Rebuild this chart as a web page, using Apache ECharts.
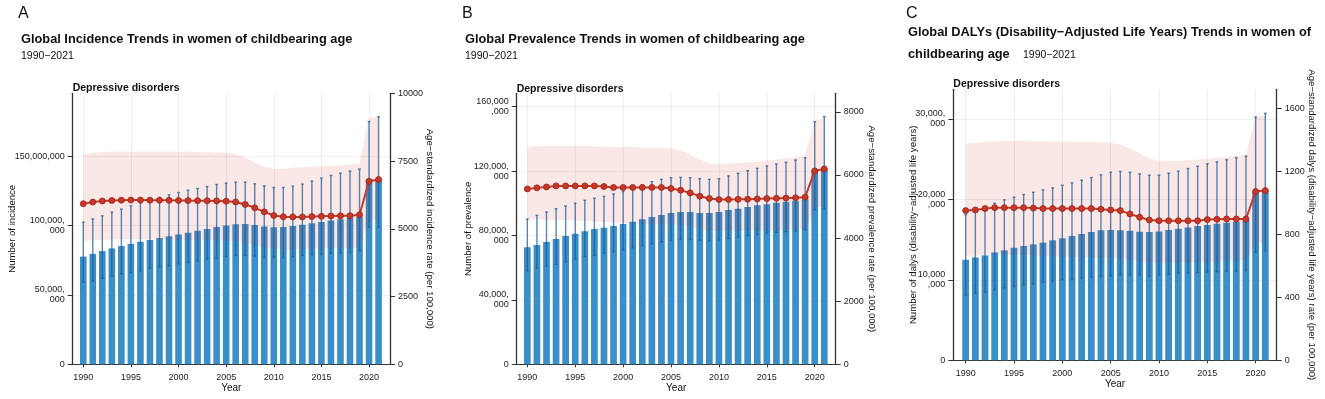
<!DOCTYPE html>
<html>
<head>
<meta charset="utf-8">
<script src="https://cdn.jsdelivr.net/npm/echarts@6/dist/echarts.min.js"></script>
<style>
  html, body { margin: 0; padding: 0; background: #fff; }
  #chart { width: 1325px; height: 399px; }
</style>
</head>
<body>
<div id="chart"></div>
<script>
// ---- data (counts in millions, rates per 100,000) ----
var years = [1990, 1991, 1992, 1993, 1994, 1995, 1996, 1997, 1998, 1999, 2000, 2001, 2002, 2003, 2004, 2005,
             2006, 2007, 2008, 2009, 2010, 2011, 2012, 2013, 2014, 2015, 2016, 2017, 2018, 2019, 2020, 2021];
var yearTicks = [1990, 1995, 2000, 2005, 2010, 2015, 2020];

// A - incidence
var incCount = [77.6, 79.6, 81.6, 83.5, 85.2, 86.8, 88.3, 89.6, 91.0, 92.2, 93.5, 94.8, 96.2, 97.5, 98.9, 100.1,
                100.9, 101.1, 100.4, 99.3, 98.8, 98.9, 99.7, 100.5, 101.6, 102.6, 103.6, 104.5, 105.4, 106.4, 132.3, 132.8];
var incLower = [59.2, 60.1, 62.0, 63.7, 65.2, 66.1, 67.5, 69.3, 70.2, 71.1, 72.4, 73.3, 74.5, 75.8, 76.5, 77.6,
                78.4, 78.4, 78.0, 77.0, 77.0, 77.0, 77.6, 78.4, 79.0, 79.3, 80.0, 80.0, 80.5, 82.0, 98.8, 98.8];
var incUpper = [102.4, 104.8, 107.0, 109.7, 111.8, 114.2, 116.4, 118.5, 120.2, 122.1, 123.8, 125.5, 126.7, 128.1, 129.6, 130.6,
                131.3, 131.3, 130.1, 128.6, 127.4, 127.4, 128.4, 129.9, 132.0, 134.2, 136.1, 137.8, 139.3, 140.7, 175.0, 178.4];
var incRate = [5925, 5985, 6025, 6045, 6055, 6060, 6060, 6058, 6055, 6050, 6045, 6040, 6038, 6035, 6030, 6020,
               5990, 5900, 5775, 5625, 5490, 5445, 5440, 5440, 5450, 5460, 5470, 5478, 5485, 5520, 6755, 6818];
var incRateLower = [4540, 4570, 4590, 4600, 4610, 4610, 4610, 4610, 4605, 4600, 4600, 4595, 4590, 4585, 4580, 4570,
                    4540, 4480, 4400, 4320, 4260, 4240, 4240, 4240, 4250, 4260, 4270, 4280, 4290, 4310, 5300, 5350];
var incRateUpper = [7754, 7800, 7830, 7843, 7845, 7845, 7845, 7843, 7843, 7843, 7843, 7840, 7835, 7825, 7815, 7806,
                    7760, 7621, 7450, 7288, 7214, 7220, 7251, 7270, 7290, 7311, 7330, 7350, 7370, 7410, 9100, 9146];
var incLeftTicks = [0, 50, 100, 150];
var incLeftLabels = ['0', '50,000,\n000', '100,000,\n000', '150,000,000'];
var incRightTicks = [0, 2500, 5000, 7500, 10000];

// B - prevalence
var prevCount = [72.7, 74.1, 76.0, 77.8, 79.7, 81.1, 82.6, 84.0, 84.8, 85.9, 87.1, 88.6, 90.1, 91.5, 92.7, 94.0,
                 94.6, 94.6, 94.0, 94.0, 94.6, 95.8, 96.6, 97.7, 98.8, 99.4, 100.4, 101.0, 101.6, 102.5, 120.7, 121.7];
var prevLower = [58.1, 59.6, 61.1, 62.1, 63.7, 65.4, 66.8, 67.7, 68.9, 69.9, 71.0, 72.3, 73.6, 74.8, 76.0, 77.0,
                 77.5, 77.5, 77.0, 76.8, 77.2, 78.2, 79.0, 79.8, 80.6, 81.2, 81.9, 82.4, 82.9, 83.6, 96.0, 96.5];
var prevUpper = [90.2, 92.5, 94.6, 96.6, 98.3, 100.0, 101.9, 103.1, 104.3, 105.8, 107.3, 109.2, 111.4, 113.4, 114.9, 115.9,
                 116.1, 115.9, 115.3, 114.9, 115.3, 117.0, 118.6, 120.3, 121.7, 123.2, 124.4, 125.5, 126.9, 128.3, 150.7, 153.8];
var prevRate = [5557, 5589, 5620, 5652, 5652, 5652, 5652, 5652, 5633, 5601, 5601, 5601, 5601, 5601, 5601, 5570,
                5516, 5430, 5326, 5253, 5222, 5222, 5225, 5230, 5240, 5250, 5258, 5265, 5275, 5295, 6127, 6190];
var prevRateLower = [4598, 4590, 4580, 4570, 4560, 4550, 4540, 4525, 4510, 4490, 4470, 4460, 4450, 4440, 4430, 4420,
                     4400, 4350, 4280, 4230, 4210, 4210, 4215, 4220, 4230, 4240, 4250, 4260, 4270, 4280, 4950, 5000];
var prevRateUpper = [6886, 6905, 6915, 6918, 6918, 6918, 6915, 6905, 6895, 6890, 6886, 6880, 6870, 6860, 6850, 6835,
                     6780, 6650, 6487, 6361, 6340, 6361, 6380, 6400, 6420, 6443, 6480, 6520, 6570, 6633, 7731, 7794];
var prevLeftTicks = [0, 40, 80, 120, 160];
var prevLeftLabels = ['0', '40,000,\n000', '80,000,\n000', '120,000,\n000', '160,000\n,000'];
var prevRightTicks = [0, 2000, 4000, 6000, 8000];

// C - DALYs
var dalyCount = [12.49, 12.78, 13.03, 13.40, 13.65, 13.98, 14.20, 14.40, 14.61, 14.90, 15.15, 15.44, 15.69, 15.94, 16.14, 16.19,
                 16.14, 16.10, 15.98, 15.94, 16.01, 16.19, 16.35, 16.51, 16.69, 16.81, 16.97, 17.10, 17.22, 17.43, 20.87, 21.05];
var dalyLower = [8.13, 8.34, 8.47, 8.75, 8.97, 9.17, 9.38, 9.50, 9.71, 9.79, 10.00, 10.09, 10.21, 10.34, 10.41, 10.50,
                 10.59, 10.59, 10.59, 10.50, 10.59, 10.71, 10.83, 10.83, 10.91, 10.96, 11.00, 11.08, 11.08, 11.16, 13.40, 13.60];
var dalyUpper = [18.09, 18.68, 19.09, 19.50, 19.93, 20.25, 20.59, 20.87, 21.17, 21.42, 21.74, 22.04, 22.37, 22.70, 23.04, 23.36,
                 23.45, 23.36, 23.16, 22.99, 22.99, 23.24, 23.49, 23.82, 24.11, 24.41, 24.66, 24.91, 25.16, 25.36, 30.21, 30.67];
var dalyRate = [950, 954, 963, 969, 969, 969, 969, 966, 963, 963, 963, 963, 963, 963, 959, 954,
                950, 929, 908, 891, 886, 886, 886, 886, 886, 893, 895, 897, 897, 897, 1071, 1077];
var dalyRateLower = [660, 665, 668, 670, 670, 670, 668, 665, 662, 660, 658, 656, 654, 652, 650, 648,
                     644, 636, 626, 618, 614, 614, 616, 618, 620, 622, 625, 628, 632, 636, 740, 745];
var dalyRateUpper = [1373, 1380, 1386, 1390, 1392, 1392, 1392, 1391, 1390, 1389, 1388, 1387, 1386, 1385, 1384, 1382,
                     1370, 1345, 1314, 1283, 1267, 1265, 1266, 1270, 1274, 1278, 1284, 1290, 1296, 1303, 1547, 1557];
var dalyLeftTicks = [0, 10, 20, 30];
var dalyLeftLabels = ['0', '10,000\n,000', '20,000\n,000', '30,000,\n000'];
var dalyRightTicks = [0, 400, 800, 1200, 1600];

// ---- styling ----
var FONT = '"Liberation Sans", Arial, sans-serif';
var BAR_COLOR = '#3b8fc8';
var ERR_COLOR = 'rgba(30, 88, 150, 0.72)';
var RIBBON_COLOR = 'rgba(214, 48, 39, 0.11)';
var LINE_COLOR = '#c4392a';
var AXIS_COLOR = '#333';
var GRID_COLOR = '#ebebeb';

var panels = [
  {
    letter: 'A', letterX: 18,
    titleX: 21, title: 'Global Incidence Trends in women of childbearing age',
    left: 72.7, top: 93.3, width: 317.3, height: 271, xMin: 1988.89, xMax: 2022.2, barW: 6.6,
    count: incCount, lower: incLower, upper: incUpper,
    rate: incRate, rateLower: incRateLower, rateUpper: incRateUpper,
    leftMax: 195.3, leftTicks: incLeftTicks, leftLabels: incLeftLabels,
    rightMax: 10000, rightTicks: incRightTicks,
    leftName: 'Number of incidence', leftGap: 55,
    rightName: 'Age\u2212standardized incidence rate (per 100,000)', rightGap: 35,
    subY: 88
  },
  {
    letter: 'B', letterX: 462,
    titleX: 465, title: 'Global Prevalence Trends in women of childbearing age',
    left: 516.7, top: 93.3, width: 319, height: 271, xMin: 1988.89, xMax: 2022.19, barW: 6.7,
    count: prevCount, lower: prevLower, upper: prevUpper,
    rate: prevRate, rateLower: prevRateLower, rateUpper: prevRateUpper,
    leftMax: 168.3, leftTicks: prevLeftTicks, leftLabels: prevLeftLabels,
    rightMax: 8585, rightTicks: prevRightTicks,
    leftName: 'Number of prevalence', leftGap: 43,
    rightName: 'Age\u2212standardized prevalence rate (per 100,000)', rightGap: 31,
    subY: 89
  },
  {
    letter: 'C', letterX: 906,
    titleX: 908, title: 'Global DALYs (Disability\u2212Adjusted Life Years) Trends in women of',
    left: 953.3, top: 89.3, width: 323.4, height: 271, xMin: 1988.72, xMax: 2022.18, barW: 6.8,
    count: dalyCount, lower: dalyLower, upper: dalyUpper,
    rate: dalyRate, rateLower: dalyRateLower, rateUpper: dalyRateUpper,
    leftMax: 33.66, leftTicks: dalyLeftTicks, leftLabels: dalyLeftLabels,
    rightMax: 1720, rightTicks: dalyRightTicks,
    leftName: 'Number of dalys (disability\u2212adjusted life years)', leftGap: 35,
    rightName: 'Age\u2212standardized dalys (disability\u2212adjusted life years) rate (per 100,000)', rightGap: 30,
    subY: 84
  }
];

function pairs(xs, ys) {
  return xs.map(function (x, k) { return [x, ys[k]]; });
}

function plainNumber(v) { return String(v); }

function errorBarItem(params, api) {
  var x = api.value(0);
  var lo = api.coord([x, api.value(1)]);
  var hi = api.coord([x, api.value(2)]);
  var cap = 1.4;
  var st = { stroke: ERR_COLOR, lineWidth: 1.4 };
  return {
    type: 'group',
    children: [
      { type: 'line', shape: { x1: hi[0], y1: hi[1], x2: lo[0], y2: lo[1] }, style: st },
      { type: 'line', shape: { x1: hi[0] - cap, y1: hi[1], x2: hi[0] + cap, y2: hi[1] }, style: st },
      { type: 'line', shape: { x1: lo[0] - cap, y1: lo[1], x2: lo[0] + cap, y2: lo[1] }, style: st }
    ]
  };
}

function ribbonItem(lowArr, highArr) {
  return function (params, api) {
    if (params.dataIndex !== 0) return null;
    var pts = [];
    for (var k = 0; k < years.length; k++) pts.push(api.coord([years[k], highArr[k]]));
    for (var j = years.length - 1; j >= 0; j--) pts.push(api.coord([years[j], lowArr[j]]));
    return { type: 'polygon', shape: { points: pts }, style: { fill: RIBBON_COLOR } };
  };
}

var grids = [], xAxes = [], yAxes = [], series = [], graphics = [];
var nameStyle = { color: '#111', fontSize: 9.6, fontFamily: FONT };

panels.forEach(function (p, i) {
  grids.push({ left: p.left, top: p.top, width: p.width, height: p.height });

  xAxes.push({
    type: 'value', gridIndex: i, min: p.xMin, max: p.xMax,
    axisLine: { show: true, onZero: false, lineStyle: { color: AXIS_COLOR, width: 1.2 } },
    axisTick: { show: true, length: 3, customValues: yearTicks, lineStyle: { color: AXIS_COLOR } },
    axisLabel: { customValues: yearTicks, formatter: plainNumber, color: '#222', fontSize: 9, margin: 8.5, fontFamily: FONT },
    splitLine: { show: true, lineStyle: { color: GRID_COLOR, width: 0.8 } },
    name: 'Year', nameLocation: 'middle', nameGap: 18.5, nameMoveOverlap: false,
    nameTextStyle: { color: '#111', fontSize: 10, fontFamily: FONT }
  });

  yAxes.push({
    type: 'value', gridIndex: i, position: 'left', min: 0, max: p.leftMax,
    axisLine: { show: true, lineStyle: { color: AXIS_COLOR, width: 1.3 } },
    axisTick: { show: true, length: 5, customValues: p.leftTicks, lineStyle: { color: AXIS_COLOR } },
    axisLabel: {
      customValues: p.leftTicks, color: '#222', fontSize: 9, lineHeight: 10, margin: 8, fontFamily: FONT,
      formatter: (function (ticks, labels) {
        return function (v) { var k = ticks.indexOf(v); return k >= 0 ? labels[k] : ''; };
      })(p.leftTicks, p.leftLabels)
    },
    splitLine: { show: true, lineStyle: { color: GRID_COLOR, width: 0.8 } },
    name: p.leftName, nameLocation: 'middle', nameRotate: 90, nameGap: p.leftGap, nameMoveOverlap: false,
    nameTextStyle: nameStyle
  });

  yAxes.push({
    type: 'value', gridIndex: i, position: 'right', min: 0, max: p.rightMax,
    axisLine: { show: true, lineStyle: { color: AXIS_COLOR, width: 1.3 } },
    axisTick: { show: true, length: 5, customValues: p.rightTicks, lineStyle: { color: AXIS_COLOR } },
    axisLabel: { customValues: p.rightTicks, formatter: plainNumber, color: '#222', fontSize: 9, margin: 8, fontFamily: FONT },
    splitLine: { show: false },
    name: p.rightName, nameLocation: 'middle', nameRotate: -90, nameGap: p.rightGap, nameMoveOverlap: false,
    nameTextStyle: nameStyle
  });

  series.push({
    type: 'bar', xAxisIndex: i, yAxisIndex: 2 * i, z: 1,
    barWidth: p.barW, itemStyle: { color: BAR_COLOR },
    data: pairs(years, p.count)
  });
  series.push({
    type: 'custom', xAxisIndex: i, yAxisIndex: 2 * i + 1, z: 2,
    renderItem: ribbonItem(p.rateLower, p.rateUpper),
    encode: { x: 0, y: [1, 2] },
    data: years.map(function (y, k) { return [y, p.rateLower[k], p.rateUpper[k]]; })
  });
  series.push({
    type: 'custom', xAxisIndex: i, yAxisIndex: 2 * i, z: 3,
    renderItem: errorBarItem,
    encode: { x: 0, y: [1, 2] },
    data: years.map(function (y, k) { return [y, p.lower[k], p.upper[k]]; })
  });
  series.push({
    type: 'line', xAxisIndex: i, yAxisIndex: 2 * i + 1, z: 4,
    symbol: 'circle', symbolSize: 6,
    lineStyle: { color: LINE_COLOR, width: 2 },
    itemStyle: { color: LINE_COLOR, borderColor: '#9a2216', borderWidth: 0.8 },
    data: pairs(years, p.rate)
  });

  graphics.push({ type: 'text', x: p.letterX, y: 14,
    style: { text: p.letter, font: '16px ' + FONT, fill: '#111', verticalAlign: 'middle' } });
  graphics.push({ type: 'text', x: p.left, y: p.subY,
    style: { text: 'Depressive disorders', font: 'bold 10.5px ' + FONT, fill: '#111', verticalAlign: 'middle' } });
});

// titles
var TITLE_FONT = 'bold 12.8px ' + FONT;
var SUB_FONT = '10.5px ' + FONT;
graphics.push({ type: 'text', x: 21, y: 39, style: { text: panels[0].title, font: TITLE_FONT, fill: '#111', verticalAlign: 'middle' } });
graphics.push({ type: 'text', x: 21, y: 56, style: { text: '1990\u22122021', font: SUB_FONT, fill: '#111', verticalAlign: 'middle' } });
graphics.push({ type: 'text', x: 465, y: 39, style: { text: panels[1].title, font: TITLE_FONT, fill: '#111', verticalAlign: 'middle' } });
graphics.push({ type: 'text', x: 465, y: 56, style: { text: '1990\u22122021', font: SUB_FONT, fill: '#111', verticalAlign: 'middle' } });
graphics.push({ type: 'text', x: 908, y: 32, style: { text: panels[2].title, font: TITLE_FONT, fill: '#111', verticalAlign: 'middle' } });
graphics.push({ type: 'text', x: 908, y: 54, style: { text: 'childbearing age', font: TITLE_FONT, fill: '#111', verticalAlign: 'middle' } });
graphics.push({ type: 'text', x: 1023, y: 55, style: { text: '1990\u22122021', font: SUB_FONT, fill: '#111', verticalAlign: 'middle' } });

var chart = echarts.init(document.getElementById('chart'));
chart.setOption({
  animation: false,
  backgroundColor: '#fff',
  textStyle: { fontFamily: FONT },
  grid: grids,
  xAxis: xAxes,
  yAxis: yAxes,
  series: series,
  graphic: graphics
});
</script>
</body>
</html>
